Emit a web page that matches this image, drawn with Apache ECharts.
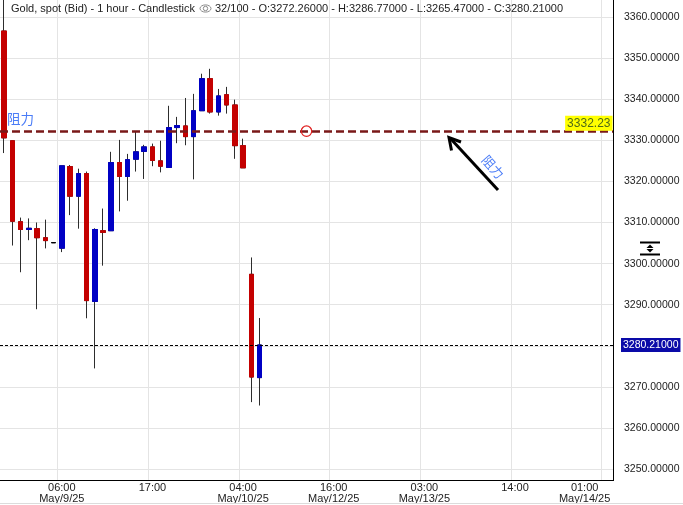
<!DOCTYPE html>
<html><head><meta charset="utf-8">
<script src="https://cdn.jsdelivr.net/npm/echarts@6/dist/echarts.min.js"></script>
<style>html,body{margin:0;padding:0;background:#fff}#c{width:683px;height:505px}</style>
</head><body><div id="c"></div>
<script>
// ---- data ----
const daySegments = [
  ['May/8/25', 23, 23], ['May/9/25', 0, 23], ['May/10/25', 0, 4],
  ['May/12/25', 6, 23], ['May/13/25', 0, 23], ['May/14/25', 0, 2]
];
const opens  = [3356.6,3329.9,3310.2,3308.3,3308.5,3306.3,3305.1,3303.75,3323.6,3316.4,3321.9,3290.8,3308.0,3308.0,3324.6,3321.2,3325.4,3327.3,3328.4,3325.0,3323.4,3333.1,3333.5,3330.9,3337.2,3345.0,3336.9,3341.1,3338.6,3328.7,3297.4,3272.26];
const highs  = [3366.0,3330.0,3311.2,3311.0,3310.0,3310.7,3305.1,3323.8,3324.0,3323.1,3322.4,3308.6,3313.4,3327.2,3330.1,3326.7,3332.1,3328.9,3329.2,3329.9,3338.4,3335.7,3340.3,3341.3,3346.2,3347.4,3342.5,3343.0,3339.9,3330.4,3301.5,3286.77];
const lows   = [3326.9,3304.4,3297.9,3305.7,3288.9,3303.7,3305.1,3302.8,3311.8,3308.5,3286.7,3274.5,3299.5,3308.0,3312.7,3315.3,3322.4,3320.6,3323.7,3322.2,3323.4,3329.3,3328.8,3320.5,3337.2,3336.5,3336.0,3336.5,3325.5,3323.3,3266.3,3265.47];
const closes = [3330.6,3310.3,3308.3,3308.6,3306.3,3305.6,3305.1,3323.8,3316.4,3321.9,3291.0,3308.3,3307.6,3324.6,3321.2,3325.3,3327.2,3328.4,3325.1,3323.7,3333.1,3333.6,3330.9,3337.2,3345.0,3336.9,3340.8,3338.6,3328.7,3323.3,3272.4,3280.21];
const yTicks = [3250,3260,3270,3280,3290,3300,3310,3320,3330,3340,3350,3360];
const xTickIndex  = [7, 18, 29, 40, 51, 62, 73];
const xTickLabels = ['06:00\nMay/9/25','17:00','04:00\nMay/10/25','16:00\nMay/12/25','03:00\nMay/13/25','14:00','01:00\nMay/14/25'];
const resistanceLevel = 3332.23;
const lastPrice = 3280.21;
const titleMain = 'Gold, spot (Bid) - 1 hour - Candlestick';
const titleInfo = '32/100 - O:3272.26000 - H:3286.77000 - L:3265.47000 - C:3280.21000';
const resistanceText = '阻力';

// ---- build ----
const categories = [];
daySegments.forEach(([d, a, b]) => { for (let h = a; h <= b; h++) categories.push(d + ' ' + String(h).padStart(2,'0') + ':00'); });
const wickData = opens.map((o, i) => [o, closes[i], lows[i], highs[i]]);
const bodyData = opens.map((o, i) => [o, closes[i], Math.min(o, closes[i]), Math.max(o, closes[i])]);

const FONT = '"Liberation Sans", Arial, sans-serif';
const CJK = '"Noto Sans CJK SC", sans-serif';
const RED = '#c40000', BLUE = '#0000c4', WICK = '#2d2d2d';
const tickShown = i => xTickIndex.indexOf(i) >= 0;

const chart = echarts.init(document.getElementById('c'), null, {renderer: 'canvas'});
chart.setOption({
  animation: false,
  backgroundColor: '#fff',
  grid: {left: 0, top: 0, width: 618, height: 480},
  xAxis: {
    type: 'category', data: categories, boundaryGap: true,
    axisLine: {show: false}, axisTick: {show: false},
    splitLine: {show: true, interval: (i) => tickShown(i), lineStyle: {color: '#e4e4e4', width: 1}},
    axisLabel: {
      interval: (i) => tickShown(i), margin: 2, color: '#222', fontSize: 11, lineHeight: 11, fontFamily: FONT,
      formatter: (v, i) => {
        const k = xTickIndex.indexOf(i);
        if (k < 0) return '';
        if (k === xTickIndex.length - 1) {
          return xTickLabels[k].split('\n').map(s => '{s|' + s + '}').join('\n');
        }
        return xTickLabels[k];
      },
      rich: {s: {padding: [0, 42, 0, 0], color: '#222', fontSize: 11, lineHeight: 11, fontFamily: FONT}}
    }
  },
  yAxis: {
    type: 'value', position: 'right', min: 3247.35, max: 3364.14, scale: true,
    axisLine: {show: false}, axisTick: {show: false}, axisLabel: {show: false}, splitLine: {show: false}
  },
  series: [
    {
      type: 'candlestick', name: 'wick', data: wickData, barWidth: 5, z: 2,
      itemStyle: {color: WICK, color0: WICK, borderColor: WICK, borderColor0: WICK, borderColorDoji: '#000', borderWidth: 1},
      emphasis: {disabled: true}, silent: true,
      markLine: {
        z: 1, silent: true, symbol: ['none', 'none'], animation: false,
        lineStyle: {color: '#e4e4e4', type: 'solid', width: 1},
        label: {show: true, position: 'end', distance: 6, color: '#222', fontSize: 10.5, fontFamily: FONT,
                formatter: p => Number(p.value).toFixed(5)},
        emphasis: {disabled: true},
        data: yTicks.map(v => ({yAxis: v}))
      }
    },
    {
      type: 'candlestick', name: 'body', data: bodyData, barWidth: 5, z: 3,
      itemStyle: {color: BLUE, color0: RED, borderColor: BLUE, borderColor0: RED, borderColorDoji: '#000', borderWidth: 1},
      emphasis: {disabled: true}, silent: true,
      markLine: {
        z: 5, silent: true, symbol: ['none', 'none'], animation: false,
        emphasis: {disabled: true},
        data: [
          {yAxis: resistanceLevel,
           lineStyle: {color: '#7a1818', type: [8, 4], width: 2.6},
           label: {show: true, position: 'insideEndTop', distance: [5.5, 0.5], formatter: resistanceLevel.toFixed(2),
                   backgroundColor: '#ffff00', color: '#4f6b17', padding: [2, 2, 1, 2], fontSize: 12, fontFamily: FONT}},
          {yAxis: lastPrice,
           lineStyle: {color: '#000', type: [3, 2], width: 1},
           label: {show: true, position: 'end', distance: 3, formatter: lastPrice.toFixed(5),
                   backgroundColor: '#0a0aa8', color: '#fff', padding: [2, 2, 1, 2], fontSize: 10.5, fontFamily: FONT}}
        ]
      }
    }
  ]
});

const yRes = chart.convertToPixel({yAxisIndex: 0}, resistanceLevel);
chart.setOption({
  graphic: [
    {type: 'rect', z: 50, shape: {x: 614, y: 0, width: 6, height: 483}, style: {fill: '#fff'}, silent: true},
    {type: 'line', z: 60, shape: {x1: 613.5, y1: 0, x2: 613.5, y2: 481}, style: {stroke: '#000', lineWidth: 1}},
    {type: 'line', z: 60, shape: {x1: 0, y1: 480.5, x2: 614, y2: 480.5}, style: {stroke: '#000', lineWidth: 1}},
    {type: 'line', z: 60, shape: {x1: 0, y1: 503.5, x2: 683, y2: 503.5}, style: {stroke: '#dcdcdc', lineWidth: 1}},
    // title
    {type: 'text', z: 60, x: 11, y: 8.5, style: {text: titleMain, font: '11px ' + FONT, fill: '#222', verticalAlign: 'middle'}},
    {type: 'ellipse', z: 60, shape: {cx: 205.5, cy: 8.5, rx: 5.5, ry: 3.6}, style: {stroke: '#8a8a8a', fill: 'none', lineWidth: 1}},
    {type: 'circle', z: 60, shape: {cx: 205.5, cy: 8.5, r: 2.2}, style: {stroke: '#8a8a8a', fill: 'none', lineWidth: 1}},
    {type: 'text', z: 60, x: 215, y: 8.5, style: {text: titleInfo, font: '11px ' + FONT, fill: '#222', verticalAlign: 'middle'}},
    // left resistance text
    {type: 'text', z: 60, x: 7, y: yRes - 12, style: {text: resistanceText, font: '13.5px ' + CJK, fill: '#4a7cf7', verticalAlign: 'middle'}},
    // anchor circle
    {type: 'circle', z: 60, shape: {cx: 306.5, cy: yRes, r: 5.2}, style: {stroke: '#e02020', fill: 'none', lineWidth: 1.2}},
    // arrow
    {type: 'line', z: 60, shape: {x1: 498, y1: 190, x2: 450, y2: 138}, style: {stroke: '#000', lineWidth: 3}},
    {type: 'polyline', z: 60, shape: {points: [[451.5, 150.5], [449, 137.5], [461, 142]]}, style: {stroke: '#000', lineWidth: 3, fill: 'none', lineJoin: 'miter'}},
    {type: 'text', z: 60, x: 493, y: 167, rotation: -0.85,
     style: {text: resistanceText, font: '13px ' + CJK, fill: '#4a7cf7', align: 'center', verticalAlign: 'middle'}},
    // scale icon
    {type: 'rect', z: 60, shape: {x: 640, y: 241.5, width: 20, height: 2}, style: {fill: '#000'}},
    {type: 'rect', z: 60, shape: {x: 640, y: 253.5, width: 20, height: 2}, style: {fill: '#000'}},
    {type: 'polygon', z: 60, shape: {points: [[650, 244.5], [653.5, 248], [646.5, 248]]}, style: {fill: '#000'}},
    {type: 'polygon', z: 60, shape: {points: [[646.5, 249], [653.5, 249], [650, 252.5]]}, style: {fill: '#000'}}
  ]
});
</script>
</body></html>
